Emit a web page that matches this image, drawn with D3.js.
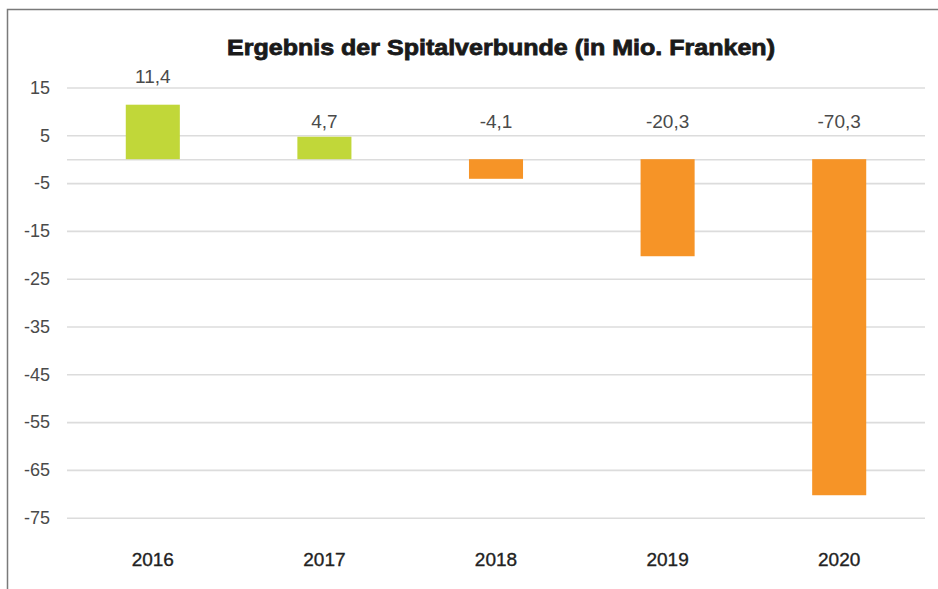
<!DOCTYPE html>
<html>
<head>
<meta charset="utf-8">
<script src="https://cdn.jsdelivr.net/npm/d3@7"></script>
<style>
  body { margin: 0; background: #fff; }
  svg { display: block; font-family: "Liberation Sans", Arial, sans-serif; }
</style>
</head>
<body>
<div id="chart"></div>
<script>
// data
var years = ["2016", "2017", "2018", "2019", "2020"];
var results = [11.4, 4.7, -4.1, -20.3, -70.3];
var yTicks = [15, 5, -5, -15, -25, -35, -45, -55, -65, -75];
var chartTitle = "Ergebnis der Spitalverbunde (in Mio. Franken)";

var W = 938, H = 589;
var margin = { top: 87.5, right: 13, bottom: 71.3, left: 67 };
var width = W - margin.left - margin.right,
    height = H - margin.top - margin.bottom;

var svg = d3.select("#chart")
  .append("svg")
  .attr("width", W)
  .attr("height", H);

// frame (left + top edge)
svg.append("path")
  .attr("d", "M7.5,589 L7.5,9.5 L938,9.5")
  .attr("fill", "none")
  .attr("stroke", "#7a7a7a")
  .attr("stroke-width", 1.5);

var g = svg.append("g")
  .attr("transform", "translate(" + margin.left + "," + margin.top + ")");

var x = d3.scaleBand()
  .domain(years)
  .range([0, width])
  .paddingInner(0.685)
  .paddingOuter(0.3425);

var y = d3.scaleLinear()
  .domain([-75, 15])
  .range([height, 0]);

// grid lines + tick labels
var yAxis = g.append("g")
  .call(d3.axisLeft(y).tickValues(yTicks.concat([0])).tickSize(-width).tickPadding(17)
        .tickFormat(function (d) { return d === 0 ? "" : d; }));
yAxis.select(".domain").remove();
yAxis.selectAll(".tick line")
  .attr("stroke", "#dcdcdc")
  .attr("stroke-width", 1.6);
yAxis.selectAll(".tick text")
  .attr("font-size", "18px")
  .attr("font-family", "Liberation Sans, Arial, sans-serif")
  .attr("fill", "#4a4a4a");

// bars
g.selectAll("rect.bar")
  .data(results)
  .enter()
  .append("rect")
  .attr("class", "bar")
  .attr("x", function (d, i) { return x(years[i]); })
  .attr("y", function (d) { return y(Math.max(d, 0)); })
  .attr("width", x.bandwidth())
  .attr("height", function (d) { return Math.abs(y(d) - y(0)); })
  .attr("fill", function (d) { return d >= 0 ? "#c1d739" : "#f69427"; });

// value labels (comma decimals, plain hyphen for minus)
g.selectAll("text.val")
  .data(results)
  .enter()
  .append("text")
  .attr("class", "val")
  .attr("x", function (d, i) { return x(years[i]) + x.bandwidth() / 2; })
  .attr("y", function (d) { return d > 10 ? y(d) - 22 : y(0) - 31; })
  .attr("text-anchor", "middle")
  .attr("font-size", "19px")
  .attr("fill", "#4a4a4a")
  .text(function (d) { return d.toFixed(1).replace(".", ","); });

// year labels
g.selectAll("text.year")
  .data(years)
  .enter()
  .append("text")
  .attr("class", "year")
  .attr("x", function (d) { return x(d) + x.bandwidth() / 2; })
  .attr("y", height + 48.5)
  .attr("text-anchor", "middle")
  .attr("font-size", "19px")
  .attr("fill", "#222")
  .attr("stroke", "#222")
  .attr("stroke-width", 0.35)
  .text(function (d) { return d; });

// title
svg.append("text")
  .attr("x", 501)
  .attr("y", 55)
  .attr("text-anchor", "middle")
  .attr("font-size", "22px")
  .attr("font-weight", "bold")
  .attr("textLength", 548)
  .attr("lengthAdjust", "spacingAndGlyphs")
  .attr("fill", "#1a1a1a")
  .attr("stroke", "#1a1a1a")
  .attr("stroke-width", 0.8)
  .text(chartTitle);
</script>
</body>
</html>
